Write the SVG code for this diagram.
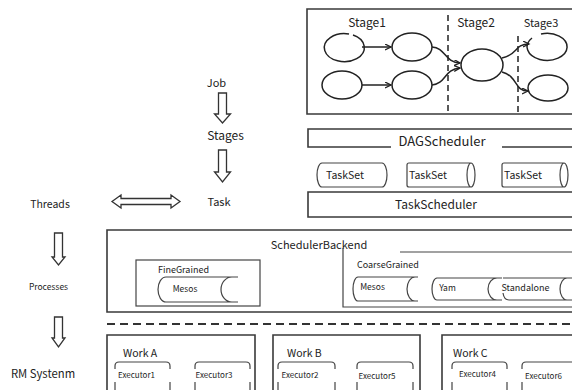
<svg xmlns="http://www.w3.org/2000/svg" width="572" height="390" viewBox="0 0 572 390">
<defs>
<style>
text{font-family:"Noto Sans CJK SC","Noto Sans",sans-serif;fill:#222;}
.ln{fill:none;stroke:#333;stroke-width:1.5;}
.el{fill:none;stroke:#222;stroke-width:1.5;}
.bx{fill:none;stroke:#3a3a3a;stroke-width:1.6;}
.th{fill:none;stroke:#444;stroke-width:1.2;}
.ha{fill:#fff;stroke:#333;stroke-width:1.3;}
.c{text-anchor:middle;}
</style>
<marker id="ar" markerWidth="8" markerHeight="8" refX="6" refY="3" orient="auto" markerUnits="userSpaceOnUse">
<path d="M0,0 L6,3 L0,6" fill="none" stroke="#222" stroke-width="1.3"/>
</marker>
</defs>
<rect width="572" height="390" fill="#fff"/>

<g id="dag-box">
<path class="bx" d="M575,9 H307 V114 H575"/>
<text x="367" y="27" class="c" font-size="12">Stage1</text>
<text x="476" y="27" class="c" font-size="12">Stage2</text>
<text x="541" y="27" class="c" font-size="11">Stage3</text>
</g>
<g id="n1"><path class="el" d="M353,35 A20,14 0 1 1 349,34"/></g>
<g id="n2"><ellipse class="el" cx="412" cy="47" rx="20" ry="14"/></g>
<g id="n3"><ellipse class="el" cx="342" cy="85" rx="20" ry="14"/></g>
<g id="n4"><ellipse class="el" cx="412" cy="85" rx="20" ry="14"/></g>
<g id="n5"><ellipse class="el" cx="482" cy="65" rx="21" ry="16"/></g>
<g id="n6"><path class="el" d="M541,34 A20,13.5 0 1 1 532,38"/></g>
<g id="n7"><ellipse class="el" cx="548" cy="88" rx="20" ry="13"/></g>

<g id="connectors">
<line class="el" x1="362" y1="47" x2="391" y2="47" marker-end="url(#ar)"/>
<line class="el" x1="362" y1="85" x2="391" y2="85" marker-end="url(#ar)"/>
<path class="el" d="M432,47 C446,48 444,62 460,63" marker-end="url(#ar)"/>
<path class="el" d="M432,85 C446,84 444,69 460,68" marker-end="url(#ar)"/>
<path class="el" d="M502,58 C518,55 514,44 529,44" marker-end="url(#ar)"/>
<path class="el" d="M502,72 C518,76 514,91 528,91" marker-end="url(#ar)"/>
<line x1="448" y1="15" x2="448" y2="113" stroke="#222" stroke-width="1.5" stroke-dasharray="6 4"/>
<line x1="518" y1="36" x2="518" y2="114" stroke="#222" stroke-width="1.5" stroke-dasharray="6 4"/>
<polygon class="ha" points="218.5,93 226.5,93 226.5,114 230.5,114 222.5,123 214.5,114 218.5,114"/>
<polygon class="ha" points="218.5,150 226.5,150 226.5,172 230.5,172 222.5,182 214.5,172 218.5,172"/>
<polygon class="ha" points="54.5,233 62.5,233 62.5,257 65,257 58.5,265 52,257 54.5,257"/>
<polygon class="ha" points="54.5,317 62.5,317 62.5,338 65,338 58.5,347 52,338 54.5,338"/>
<polygon class="ha" points="112,201.5 121,195 121,198.5 171,198.5 171,195 180,201.5 171,208 171,204.5 121,204.5 121,208"/>
<line x1="107" y1="324" x2="572" y2="324" stroke="#333" stroke-width="2" stroke-dasharray="8 5"/>
</g>

<g id="job"><text x="216.5" y="87" class="c" font-size="11">Job</text></g>
<g id="stages"><text x="225.5" y="140" class="c" font-size="12">Stages</text></g>
<g id="task"><text x="219" y="206" class="c" font-size="11">Task</text></g>
<g id="threads"><text x="50" y="207.5" class="c" font-size="10.5">Threads</text></g>
<g id="processes"><text x="48.5" y="290" class="c" font-size="8.5">Processes</text></g>
<g id="rm"><text x="43" y="378" class="c" font-size="11.3">RM Systenm</text></g>

<g id="dagscheduler">
<path class="bx" d="M391,147 H308 V129 H575 M502,147 H575"/>
<text x="442" y="146" class="c" font-size="13">DAGScheduler</text>
</g>
<g id="taskset1">
<path class="th" d="M322,163 H382 A5,12 0 0 1 382,187 H322 A5,12 0 0 1 322,163 Z"/>
<text x="345" y="179" class="c" font-size="10.5">TaskSet</text>
</g>
<g id="taskset2">
<path class="th" d="M409,163 H471 A4,12 0 0 1 471,187 H409 Q407,187 407,185 V165 Q407,163 409,163 Z M471,163 A4,12 0 0 0 471,187"/>
<text x="428" y="179" class="c" font-size="10.5">TaskSet</text>
</g>
<g id="taskset3">
<path class="th" d="M504,163 H564 A4,12 0 0 1 564,187 H504 Q502,187 502,185 V165 Q502,163 504,163 Z M564,163 A4,12 0 0 0 564,187"/>
<text x="523" y="179" class="c" font-size="10.5">TaskSet</text>
</g>
<g id="taskscheduler">
<path class="bx" d="M575,192 H308 V217 H575"/>
<text x="436" y="209" class="c" font-size="12">TaskScheduler</text>
</g>

<g id="schedulerbackend">
<path class="bx" d="M575,230 H107 V312 H575"/>
<text x="319" y="249" class="c" font-size="11">SchedulerBackend</text>
</g>
<g id="finegrained">
<rect class="th" x="136" y="260" width="124" height="46"/>
<text x="158" y="273" font-size="9">FineGrained</text>
<path class="th" d="M166,277 H238 M166,302 H238 M166,277 A8,12.5 0 0 0 166,302 M232,277 A11,12.5 0 0 0 232,302"/>
<text x="185" y="292" class="c" font-size="8.5">Mesos</text>
</g>
<g id="coarsegrained">
<path class="th" d="M400,252 H575 M343,248 V307 H575"/>
<text x="357" y="268" font-size="9">CoarseGrained</text>
<path class="th" d="M358,277 H418 M358,301 H418 M358,277 A5,12 0 0 0 358,301 M415,277 A8,12 0 0 0 415,301"/>
<text x="372.5" y="290" class="c" font-size="8.5">Mesos</text>
<path class="th" d="M437,278 H502 M437,300 H502 M437,278 A5,11 0 0 0 437,300 M497,278 A9,11 0 0 0 497,300"/>
<text x="447.5" y="291" class="c" font-size="8.5">Yam</text>
<path class="th" d="M503,278 H572 M503,293 Q504,300 509,300 H572 M567,278 A7,11 0 0 0 567,300"/>
<text x="525.5" y="291" class="c" font-size="9">Standalone</text>
</g>

<g id="workA">
<path class="bx" d="M107,392 V335 H255 V392"/>
<text x="123" y="356.5" font-size="10.5">Work A</text>
</g>
<g id="workB">
<path class="bx" d="M273,392 V335 H420 V392"/>
<text x="287" y="356.5" font-size="10.5">Work B</text>
</g>
<g id="workC">
<path class="bx" d="M442,392 V335 H575"/>
<text x="453" y="356.5" font-size="10.5">Work C</text>
</g>
<g id="executor1">
<path class="th" d="M115,369 V366 Q115,362 119,362 H166 Q170,362 170,366 V369 M115,382 V395 M170,382 V395"/>
<text x="136.5" y="378" class="c" font-size="8">Executor1</text>
</g>
<g id="executor3">
<path class="th" d="M195,369 V366 Q195,362 199,362 H246 Q250,362 250,366 V369 M195,382 V395 M250,382 V395"/>
<text x="214" y="378" class="c" font-size="8">Executor3</text>
</g>
<g id="executor2">
<path class="th" d="M278,369 V366 Q278,362 282,362 H331 Q335,362 335,366 V369 M278,382 V395 M335,382 V395"/>
<text x="300" y="378" class="c" font-size="8">Executor2</text>
</g>
<g id="executor5">
<path class="th" d="M357,369 V366 Q357,362 361,362 H409 Q413,362 413,366 V369 M357,382 V395 M413,382 V395"/>
<text x="377" y="379" class="c" font-size="8">Executor5</text>
</g>
<g id="executor4">
<path class="th" d="M452,369 V366 Q452,362 456,362 H503 Q507,362 507,366 V369 M452,382 V395 M507,382 V395"/>
<text x="477.5" y="377" class="c" font-size="8">Executor4</text>
</g>
<g id="executor6">
<path class="th" d="M522,369 V366 Q522,362 526,362 H574 Q578,362 578,366 V369 M522,382 V395"/>
<text x="543.5" y="379" class="c" font-size="8">Executor6</text>
</g>
</svg>
